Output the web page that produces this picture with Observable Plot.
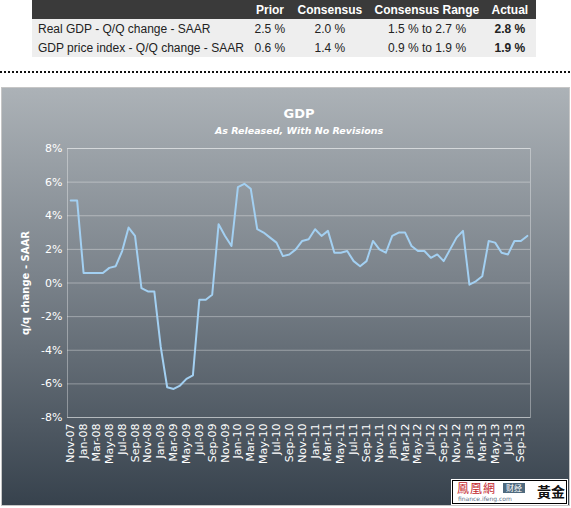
<!DOCTYPE html>
<html>
<head>
<meta charset="utf-8">
<script src="https://cdn.jsdelivr.net/npm/d3@7"></script>
<script src="https://cdn.jsdelivr.net/npm/@observablehq/plot@0.6"></script>
<style>
  html, body { margin: 0; padding: 0; background: #fff; }
  body { width: 571px; height: 508px; position: relative; overflow: hidden; font-family: "Liberation Sans", Arial, sans-serif; }
  .hdr { position: absolute; left: 32px; top: 0; width: 504px; height: 19px; background: #3a3a3a; }
  .rows { position: absolute; left: 32px; top: 19px; width: 504px; height: 38px; background: #eeeeee; }
  .cell { position: absolute; font-size: 12px; line-height: 14px; white-space: nowrap; color: #222; }
  .hcell { color: #fff; font-weight: bold; }
  .dots { position: absolute; left: 0; top: 71px; width: 571px; height: 2px;
          background: repeating-linear-gradient(to right, #111 0 2px, transparent 2px 4px); }
  .panel { position: absolute; left: 1px; top: 87px; width: 567px; height: 417px; border: 1px solid #c6c6c6;
           background: linear-gradient(to bottom, #acb2b7 0%, #7b838b 45%, #37424d 100%); }
  #chart { position: absolute; left: 0; top: 87px; }
  .logo { position: absolute; left: 452px; top: 480px; width: 113px; height: 22px; background: #fff;
          border: 1px solid #000; outline: 1px solid #fff; overflow: hidden; }
  .logo span { position: absolute; white-space: nowrap; }
</style>
</head>
<body>
<div class="hdr"></div>
<div class="rows"></div>
<div id="table"></div>
<div class="dots"></div>
<div class="panel"></div>
<div id="chart"></div>
<div class="logo">
  <span style="left:4px;top:0px;font-family:'Noto Sans CJK TC';font-size:12px;line-height:13px;color:#c3272d;letter-spacing:1px;">鳳凰網</span>
  <span style="left:50px;top:2px;width:22px;height:10px;background:#4f6a7e;color:#fff;font-family:'Noto Sans CJK SC';font-size:8px;line-height:10px;text-align:center;">财经</span>
  <span style="left:5px;top:14px;font-family:'DejaVu Sans';font-size:6px;line-height:7px;color:#5b6f87;">finance.ifeng.com</span>
  <span style="left:84px;top:1px;font-family:'Noto Sans CJK TC';font-size:14px;line-height:18px;color:#111;font-weight:bold;">黃金</span>
</div>
<script>
// ---- table data ----
const tableHeaders = ["Prior", "Consensus", "Consensus Range", "Actual"];
const tableRowLabels = ["Real GDP - Q/Q change - SAAR", "GDP price index - Q/Q change - SAAR"];
const tablePrior = ["2.5 %", "0.6 %"];
const tableConsensus = ["2.0 %", "1.4 %"];
const tableRange = ["1.5 % to 2.7 %", "0.9 % to 1.9 %"];
const tableActual = ["2.8 %", "1.9 %"];

// ---- chart data ----
const months = [
  "Nov-07","Dec-07",
  "Jan-08","Feb-08","Mar-08","Apr-08","May-08","Jun-08","Jul-08","Aug-08","Sep-08","Oct-08","Nov-08","Dec-08",
  "Jan-09","Feb-09","Mar-09","Apr-09","May-09","Jun-09","Jul-09","Aug-09","Sep-09","Oct-09","Nov-09","Dec-09",
  "Jan-10","Feb-10","Mar-10","Apr-10","May-10","Jun-10","Jul-10","Aug-10","Sep-10","Oct-10","Nov-10","Dec-10",
  "Jan-11","Feb-11","Mar-11","Apr-11","May-11","Jun-11","Jul-11","Aug-11","Sep-11","Oct-11","Nov-11","Dec-11",
  "Jan-12","Feb-12","Mar-12","Apr-12","May-12","Jun-12","Jul-12","Aug-12","Sep-12","Oct-12","Nov-12","Dec-12",
  "Jan-13","Feb-13","Mar-13","Apr-13","May-13","Jun-13","Jul-13","Aug-13","Sep-13","Oct-13"
];
const gdpChange = [
  4.9, 4.9,
  0.6, 0.6, 0.6, 0.6, 0.9, 1.0, 1.9, 3.3, 2.8, -0.3, -0.5, -0.5,
  -3.8, -6.2, -6.3, -6.1, -5.7, -5.5, -1.0, -1.0, -0.7, 3.5, 2.8, 2.2,
  5.7, 5.9, 5.6, 3.2, 3.0, 2.7, 2.4, 1.6, 1.7, 2.0, 2.5, 2.6,
  3.2, 2.8, 3.1, 1.8, 1.8, 1.9, 1.3, 1.0, 1.3, 2.5, 2.0, 1.8,
  2.8, 3.0, 3.0, 2.2, 1.9, 1.9, 1.5, 1.7, 1.3, 2.0, 2.7, 3.1,
  -0.1, 0.1, 0.4, 2.5, 2.4, 1.8, 1.7, 2.5, 2.5, 2.8
];
const yTicks = [-8, -6, -4, -2, 0, 2, 4, 6, 8];
const xTickLabels = months.filter((d, i) => i % 2 === 0);
const chartTitle = "GDP";
const chartSubtitle = "As Released, With No Revisions";
const yLabel = "q/q change - SAAR";

// ---- build table ----
const tbl = document.getElementById("table");
function addCell(text, cx, cy, cls, align, bold) {
  const s = document.createElement("div");
  s.className = "cell " + (cls || "");
  s.textContent = text;
  tbl.appendChild(s);
  const w = s.offsetWidth;
  s.style.top = (cy - 7) + "px";
  if (align === "left") s.style.left = cx + "px";
  else s.style.left = (cx - w / 2) + "px";
  if (bold) s.style.fontWeight = "bold";
}
const colCenters = [270, 330, 427, 510];
tableHeaders.forEach((h, j) => addCell(h, colCenters[j], 10, "hcell"));
const rowCenters = [29, 48];
tableRowLabels.forEach((lab, r) => {
  addCell(lab, 38, rowCenters[r], "", "left");
  addCell(tablePrior[r], colCenters[0], rowCenters[r]);
  addCell(tableConsensus[r], colCenters[1], rowCenters[r]);
  addCell(tableRange[r], colCenters[2], rowCenters[r]);
  addCell(tableActual[r], colCenters[3], rowCenters[r], "", "center", true);
});

// ---- chart ----
const data = months.map((m, i) => ({month: m, value: gdpChange[i]}));
const chart = Plot.plot({
  width: 571,
  height: 420,
  marginLeft: 67,
  marginRight: 41,
  marginTop: 61,
  marginBottom: 90,
  style: {background: "transparent", fontFamily: "'DejaVu Sans', Verdana, sans-serif", fontSize: "11px", color: "#ffffff", overflow: "visible"},
  x: {type: "point", domain: months, padding: 0.5, label: null},
  y: {domain: [-8, 8], label: null},
  marks: [
    Plot.gridY(yTicks, {stroke: "#ffffff", strokeOpacity: 0.35, strokeWidth: 1}),
    Plot.frame({stroke: "#ffffff", strokeOpacity: 0.35}),
    Plot.axisY({ticks: yTicks, tickSize: 0, tickPadding: 5, tickFormat: d => d + "%", fill: "#ffffff", label: null}),
    Plot.axisX({ticks: xTickLabels, tickSize: 0, tickPadding: 6, tickRotate: -90, fill: "#ffffff", label: null}),
    Plot.line(data, {x: "month", y: "value", stroke: "#a3d0f2", strokeWidth: 2, strokeLinejoin: "round"}),
    Plot.text([chartTitle], {frameAnchor: "top", dy: -35, lineAnchor: "middle", fontWeight: "bold", fontSize: 13, fill: "#ffffff"}),
    Plot.text([chartSubtitle], {frameAnchor: "top", dy: -18, lineAnchor: "middle", fontWeight: "bold", fontStyle: "italic", fontSize: 9.5, fill: "#ffffff"}),
    Plot.text([yLabel], {frameAnchor: "left", dx: -42, rotate: -90, textAnchor: "middle", lineAnchor: "middle", fontWeight: "bold", fontSize: 10, fill: "#ffffff"})
  ]
});
document.getElementById("chart").appendChild(chart);
</script>
</body>
</html>
